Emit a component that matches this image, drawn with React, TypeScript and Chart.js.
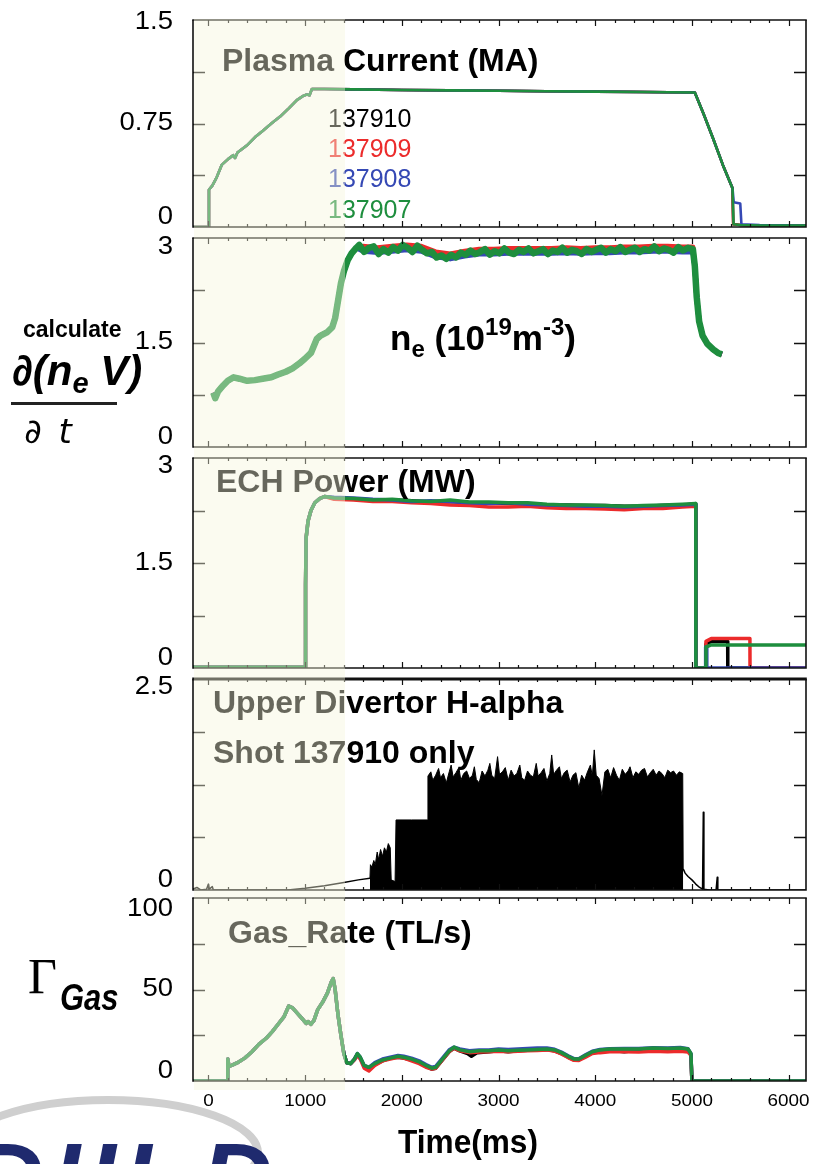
import React, { useEffect, useRef } from "react";
import { Chart, registerables } from "chart.js";

Chart.register(...registerables);

type Pair = [number, number];

/* ===================== DATA ===================== */
// time axis (ms)
const timeMin = -160;
const timeMax = 6180;
const timeTickValues = [0, 1000, 2000, 3000, 4000, 5000, 6000];
const timeTickLabels = ["0", "1000", "2000", "3000", "4000", "5000", "6000"];
const timeMinorStep = 200;

const shotNames = ["137910", "137909", "137908", "137907"];

// ---- Panel 1 : Plasma current (MA)
const ipTicks = [0, 0.375, 0.75, 1.125, 1.5];
const ipTickLabels = ["0", "", "0.75", "", "1.5"];
const ipRampFlat: Pair[] = [
  [-160, 0], [0, 0], [5, 0.27], [40, 0.3], [85, 0.36], [137, 0.45], [200, 0.49], [255, 0.52],
  [275, 0.5], [300, 0.54], [396, 0.59], [480, 0.65], [566, 0.7], [650, 0.75], [741, 0.8],
  [830, 0.86], [914, 0.92], [980, 0.95], [1017, 0.96], [1045, 0.955], [1070, 1.0], [1200, 1.0],
  [1500, 0.997], [2000, 0.993], [2500, 0.99], [3000, 0.987], [3500, 0.984], [4000, 0.981],
  [4500, 0.978], [5030, 0.975],
];
const ipTail137910: Pair[] = [[5120, 0.82], [5220, 0.64], [5320, 0.45], [5420, 0.28], [5428, 0.02], [5500, 0.015], [5700, 0.01], [6180, 0.01]];
const ipTail137909: Pair[] = [[5120, 0.82], [5220, 0.64], [5320, 0.45], [5420, 0.28], [5426, 0.02], [5500, 0.015], [5700, 0.01], [6180, 0.01]];
const ipTail137908: Pair[] = [[5120, 0.82], [5220, 0.64], [5320, 0.45], [5420, 0.28], [5432, 0.18], [5500, 0.17], [5512, 0.02], [5700, 0.015], [6180, 0.01]];
const ipTail137907: Pair[] = [[5120, 0.82], [5220, 0.64], [5320, 0.45], [5420, 0.28], [5430, 0.02], [5500, 0.015], [5700, 0.01], [6180, 0.01]];

// ---- Panel 2 : line density n_e (1e19 m^-3)
const neTicks = [0, 0.75, 1.5, 2.25, 3];
const neTickLabels = ["0", "", "1.5", "", "3"];
const neRise: Pair[] = [
  [50, 0.78], [70, 0.7], [100, 0.8], [150, 0.88], [200, 0.95], [260, 1.0], [320, 0.98], [400, 0.95],
  [480, 0.96], [560, 0.98], [650, 1.0], [720, 1.04], [800, 1.08], [870, 1.13], [940, 1.2],
  [1000, 1.27], [1060, 1.35], [1090, 1.45], [1120, 1.55], [1160, 1.6], [1230, 1.65], [1280, 1.72],
  [1310, 1.85], [1340, 2.1], [1370, 2.35], [1400, 2.52], [1440, 2.68], [1480, 2.78], [1530, 2.86],
];
const neFlat137910: Pair[] = [
  [1600, 2.83], [1750, 2.81], [1900, 2.83], [2050, 2.85], [2200, 2.83], [2350, 2.75], [2500, 2.72], [2650, 2.76],
  [2800, 2.79], [2950, 2.79], [3100, 2.8], [3250, 2.8], [3400, 2.8], [3550, 2.8], [3700, 2.81], [3850, 2.8],
  [4000, 2.81], [4150, 2.81], [4300, 2.82], [4450, 2.82], [4600, 2.83], [4750, 2.83], [4900, 2.82], [5010, 2.82],
];
const neFlat137909: Pair[] = [
  [1600, 2.88], [1750, 2.86], [1900, 2.88], [2050, 2.9], [2200, 2.88], [2350, 2.8], [2500, 2.77], [2650, 2.81],
  [2800, 2.84], [2950, 2.84], [3100, 2.85], [3250, 2.85], [3400, 2.85], [3550, 2.85], [3700, 2.86], [3850, 2.85],
  [4000, 2.86], [4150, 2.86], [4300, 2.87], [4450, 2.87], [4600, 2.88], [4750, 2.88], [4900, 2.87], [5010, 2.87],
];
const neFlat137908: Pair[] = [
  [1600, 2.81], [1750, 2.79], [1900, 2.81], [2050, 2.83], [2200, 2.81], [2350, 2.73], [2500, 2.7], [2650, 2.74],
  [2800, 2.77], [2950, 2.77], [3100, 2.78], [3250, 2.78], [3400, 2.78], [3550, 2.78], [3700, 2.79], [3850, 2.78],
  [4000, 2.79], [4150, 2.79], [4300, 2.8], [4450, 2.8], [4600, 2.81], [4750, 2.81], [4900, 2.8], [5010, 2.8],
];
const neFlat137907: Pair[] = [
  [1560, 2.9], [1610, 2.8], [1660, 2.86], [1710, 2.88], [1760, 2.77], [1810, 2.84], [1860, 2.79], [1910, 2.87],
  [1960, 2.82], [2010, 2.9], [2060, 2.86], [2110, 2.8], [2160, 2.89], [2210, 2.83], [2260, 2.78], [2310, 2.8],
  [2360, 2.72], [2410, 2.75], [2460, 2.7], [2510, 2.76], [2560, 2.72], [2610, 2.79], [2660, 2.76], [2710, 2.82],
  [2760, 2.77], [2810, 2.8], [2860, 2.84], [2910, 2.76], [2960, 2.81], [3010, 2.78], [3060, 2.85], [3110, 2.79],
  [3160, 2.77], [3210, 2.83], [3260, 2.8], [3310, 2.85], [3360, 2.78], [3410, 2.81], [3460, 2.84], [3510, 2.77],
  [3560, 2.82], [3610, 2.8], [3660, 2.86], [3710, 2.79], [3760, 2.83], [3810, 2.81], [3860, 2.77], [3910, 2.84],
  [3960, 2.8], [4010, 2.83], [4060, 2.86], [4110, 2.79], [4160, 2.84], [4210, 2.81], [4260, 2.87], [4310, 2.8],
  [4360, 2.83], [4410, 2.86], [4460, 2.8], [4510, 2.84], [4560, 2.82], [4610, 2.88], [4660, 2.81], [4710, 2.85],
  [4760, 2.83], [4810, 2.79], [4860, 2.87], [4910, 2.82], [4960, 2.86], [5010, 2.84],
];
const neFall: Pair[] = [[5030, 2.6], [5050, 2.15], [5075, 1.8], [5110, 1.6], [5160, 1.48], [5220, 1.4], [5270, 1.35], [5310, 1.33]];

// ---- Panel 3 : ECH power (MW)
const echTicks = [0, 0.75, 1.5, 2.25, 3];
const echTickLabels = ["0", "", "1.5", "", "3"];
const echRise: Pair[] = [[-160, 0.01], [1000, 0.01], [1004, 1.2], [1010, 1.86], [1030, 2.1], [1060, 2.25], [1100, 2.36], [1150, 2.42], [1200, 2.45]];
const ech137910: Pair[] = [
  [1300, 2.43], [1500, 2.41], [1700, 2.4], [1900, 2.4], [2100, 2.39], [2300, 2.37], [2500, 2.38], [2700, 2.36],
  [2900, 2.36], [3100, 2.35], [3300, 2.35], [3500, 2.33], [3700, 2.33], [3900, 2.32], [4100, 2.32], [4300, 2.31],
  [4500, 2.31], [4700, 2.32], [4900, 2.33], [5040, 2.34], [5041, 0], [5140, 0], [5145, 0.34], [5200, 0.38],
  [5370, 0.38], [5371, 0], [6180, 0],
];
const ech137909: Pair[] = [
  [1300, 2.41], [1500, 2.4], [1700, 2.38], [1900, 2.38], [2100, 2.36], [2300, 2.35], [2500, 2.33], [2700, 2.32],
  [2900, 2.3], [3100, 2.3], [3300, 2.31], [3500, 2.29], [3700, 2.28], [3900, 2.28], [4100, 2.27], [4300, 2.26],
  [4500, 2.28], [4700, 2.28], [4900, 2.3], [5040, 2.31], [5041, 0], [5140, 0], [5145, 0.38], [5200, 0.42],
  [5600, 0.42], [5601, 0], [6180, 0],
];
const ech137908: Pair[] = [
  [1300, 2.44], [1500, 2.43], [1700, 2.41], [1900, 2.4], [2100, 2.38], [2300, 2.39], [2500, 2.38], [2700, 2.36],
  [2900, 2.35], [3100, 2.36], [3300, 2.34], [3500, 2.33], [3700, 2.32], [3900, 2.31], [4100, 2.31], [4300, 2.3],
  [4500, 2.31], [4700, 2.32], [4900, 2.33], [5040, 2.34], [5041, 0], [5140, 0], [5142, 0.3], [5152, 0.3],
  [5154, 0], [6180, 0],
];
const ech137907: Pair[] = [
  [1300, 2.43], [1500, 2.42], [1700, 2.4], [1900, 2.41], [2100, 2.39], [2300, 2.38], [2500, 2.4], [2700, 2.37],
  [2900, 2.37], [3100, 2.36], [3300, 2.36], [3500, 2.34], [3700, 2.33], [3900, 2.33], [4100, 2.32], [4300, 2.31],
  [4500, 2.32], [4700, 2.33], [4900, 2.34], [5040, 2.35], [5041, 0], [5140, 0], [5145, 0.3], [5200, 0.33],
  [6180, 0.33],
];

// ---- Panel 4 : Upper divertor H-alpha (shot 137910)
const haTicks = [0, 0.625, 1.25, 1.875, 2.5];
const haTickLabels = ["0", "", "", "", "2.5"];
const haTraceEarly: Pair[] = [
  [-160, 0.01], [-120, 0.03], [-80, 0.0], [-20, 0.01], [0, 0.07], [8, 0.01], [40, 0.04], [50, 0.0],
  [600, 0.0], [820, 0.0], [1000, 0.02], [1200, 0.05], [1400, 0.09], [1550, 0.12], [1670, 0.14],
];
const haBurst: Pair[] = [
  [1670, 0.14], [1675, 0.3], [1690, 0.27], [1710, 0.35], [1725, 0.3], [1745, 0.45], [1760, 0.36], [1780, 0.48],
  [1800, 0.4], [1820, 0.5], [1840, 0.45], [1860, 0.55], [1880, 0.5], [1890, 0.12], [1930, 0.1], [1940, 0.83],
  [2100, 0.83], [2265, 0.83],
  [2270, 1.35], [2300, 1.4], [2320, 1.3], [2350, 1.36], [2380, 1.44], [2400, 1.33], [2430, 1.38], [2460, 1.27],
  [2490, 1.4], [2510, 1.48], [2530, 1.34], [2560, 1.39], [2590, 1.45], [2610, 1.3], [2640, 1.38], [2670, 1.41],
  [2700, 1.32], [2730, 1.36], [2750, 1.46], [2770, 1.31], [2800, 1.27], [2830, 1.41], [2860, 1.35], [2890, 1.42],
  [2910, 1.5], [2930, 1.36], [2960, 1.32], [2990, 1.58], [3010, 1.37], [3040, 1.4], [3070, 1.45], [3100, 1.3],
  [3130, 1.42], [3160, 1.35], [3190, 1.38], [3220, 1.48], [3240, 1.33], [3270, 1.3], [3300, 1.41], [3330, 1.36],
  [3360, 1.34], [3390, 1.5], [3410, 1.35], [3440, 1.39], [3470, 1.44], [3500, 1.29], [3530, 1.38], [3550, 1.6],
  [3570, 1.37], [3600, 1.42], [3630, 1.46], [3650, 1.32], [3680, 1.39], [3710, 1.42], [3740, 1.28], [3770, 1.36],
  [3800, 1.39], [3830, 1.21], [3860, 1.36], [3890, 1.3], [3920, 1.4], [3950, 1.48], [3970, 1.35], [3990, 1.66],
  [4010, 1.36], [4040, 1.32], [4070, 1.12], [4100, 1.4], [4130, 1.43], [4160, 1.33], [4190, 1.45], [4220, 1.36],
  [4250, 1.3], [4280, 1.43], [4310, 1.37], [4340, 1.41], [4360, 1.46], [4390, 1.33], [4420, 1.4], [4450, 1.37],
  [4480, 1.42], [4510, 1.44], [4540, 1.34], [4570, 1.39], [4600, 1.43], [4630, 1.36], [4660, 1.41], [4690, 1.38],
  [4720, 1.33], [4750, 1.42], [4780, 1.39], [4810, 1.41], [4840, 1.36], [4870, 1.4], [4905, 1.38], [4910, 0.25],
];
const haTraceLate: Pair[] = [
  [4910, 0.25], [4930, 0.2], [4960, 0.16], [5000, 0.12], [5040, 0.07], [5080, 0.03], [5110, 0.01], [5118, 0.92],
  [5124, 0.01], [5180, 0.0], [5250, 0.0], [5262, 0.15], [5268, 0.0], [6180, 0.0],
];

// ---- Panel 5 : Gas rate (TL/s)
const gasTicks = [0, 25, 50, 75, 100];
const gasTickLabels = ["0", "", "50", "", "100"];
const gasHead: Pair[] = [
  [-160, 0], [195, 0], [200, 12], [212, 8], [240, 8.5], [300, 10], [375, 12.5], [450, 16], [520, 20],
  [600, 23.5], [660, 27], [720, 31], [780, 35], [830, 41], [870, 40], [920, 37], [970, 34], [1010, 31.5],
  [1030, 32.5], [1060, 31], [1090, 33], [1130, 39], [1180, 43], [1230, 48], [1270, 54], [1290, 56],
  [1310, 50], [1340, 36], [1370, 25], [1400, 15], [1430, 10], [1470, 9.5],
];
const gas137910: Pair[] = [
  [1510, 12], [1540, 14.5], [1570, 12.5], [1610, 8], [1660, 7], [1720, 9], [1800, 11], [1880, 12.5], [1960, 13],
  [2020, 12.5], [2100, 11.5], [2180, 10], [2250, 8], [2310, 6.5], [2350, 7], [2420, 11.5], [2490, 16], [2540, 18],
  [2600, 16.5], [2680, 15], [2720, 13.5], [2780, 15.5], [2900, 16], [3000, 16.5], [3100, 16], [3200, 16.5],
  [3300, 16.8], [3400, 17], [3500, 17.2], [3580, 16.5], [3650, 15], [3720, 13], [3780, 11.5], [3830, 11.5],
  [3900, 13.5], [3970, 15.5], [4050, 16.5], [4150, 17], [4300, 16], [4450, 17], [4600, 17.5], [4750, 17.3],
  [4880, 17.5], [4960, 17], [4990, 14.5], [5000, 0], [6180, 0],
];
const gas137909: Pair[] = [
  [1510, 11.5], [1540, 14], [1570, 12], [1610, 7], [1660, 5.5], [1720, 8.5], [1800, 11], [1880, 12], [1960, 13],
  [2020, 12.5], [2100, 11], [2180, 9.5], [2250, 7.5], [2310, 6.5], [2350, 7], [2420, 11.5], [2490, 16], [2540, 18],
  [2600, 16.5], [2700, 15.5], [2800, 15.8], [2900, 16], [3000, 16.3], [3100, 16], [3200, 16.3], [3300, 16.5],
  [3400, 16.6], [3500, 17], [3580, 16.3], [3650, 14.8], [3720, 12.8], [3780, 11.3], [3830, 11.2], [3900, 13],
  [3970, 15], [4050, 15.5], [4150, 16], [4300, 16], [4450, 15.8], [4600, 16.2], [4750, 16], [4880, 16.3],
  [4960, 15.8], [4990, 14], [5000, 0], [6180, 0],
];
const gas137908: Pair[] = [
  [1510, 12], [1540, 15], [1570, 13], [1610, 8.5], [1660, 7.5], [1720, 10], [1800, 12], [1880, 13], [1960, 14],
  [2020, 13.5], [2100, 12.5], [2180, 11], [2250, 9], [2310, 7.5], [2350, 8], [2420, 12.5], [2490, 17], [2540, 18.5],
  [2600, 17.5], [2700, 16.5], [2800, 17], [2900, 17], [3000, 17.5], [3100, 17.2], [3200, 17.5], [3300, 17.8],
  [3400, 18], [3500, 18], [3580, 17.3], [3650, 15.8], [3720, 13.8], [3780, 12.3], [3830, 12.2], [3900, 14.3],
  [3970, 16.3], [4050, 17.2], [4150, 17.6], [4300, 17.8], [4450, 17.7], [4600, 18.2], [4750, 18], [4880, 18.3],
  [4960, 17.6], [4990, 15], [5000, 0], [6180, 0],
];
const gas137907: Pair[] = [
  [1510, 12], [1540, 15], [1570, 13], [1610, 8.5], [1660, 7.5], [1720, 9.5], [1800, 11.5], [1880, 12.5], [1960, 13.5],
  [2020, 13], [2100, 12], [2180, 10.5], [2250, 8.5], [2310, 7], [2350, 7.5], [2420, 12], [2490, 16.5], [2540, 18.5],
  [2600, 17], [2700, 16], [2800, 16.5], [2900, 16.5], [3000, 17], [3100, 16.5], [3200, 16.8], [3300, 17],
  [3400, 17.2], [3500, 17.5], [3580, 17], [3650, 15.5], [3720, 13.5], [3780, 12], [3830, 12], [3900, 14],
  [3970, 16], [4050, 17], [4150, 17.5], [4300, 17.5], [4450, 17.5], [4600, 18], [4750, 17.8], [4880, 18],
  [4960, 17.5], [4990, 15], [5000, 0], [6180, 0],
];

/* ===================== STYLE / LAYOUT ===================== */
const SANS = '"Liberation Sans", Arial, Helvetica, sans-serif';
const SHOT_COLORS: Record<string, string> = {
  "137910": "#000000",
  "137909": "#ec2b2b",
  "137908": "#3548b4",
  "137907": "#1e8e3e",
};
const SHOT_ORDER: Record<string, number> = { "137907": 0, "137908": 1, "137909": 2, "137910": 3 };

const FIG_W = 813;
const FIG_H = 1164;
const PLOT_LEFT = 193;
const PLOT_RIGHT = 806;

interface Box {
  top: number; bottom: number; canvasTop: number; canvasBottom: number;
  topLabelDy: number; topEdge: number;
}
const BOXES: Box[] = [
  { top: 20, bottom: 227, canvasTop: 0, canvasBottom: 241, topLabelDy: 2, topEdge: 1.6 },
  { top: 238, bottom: 447, canvasTop: 226, canvasBottom: 459, topLabelDy: 9, topEdge: 1.6 },
  { top: 458, bottom: 668, canvasTop: 446, canvasBottom: 678, topLabelDy: 8, topEdge: 1.6 },
  { top: 679, bottom: 890, canvasTop: 667, canvasBottom: 897, topLabelDy: 8.5, topEdge: 3 },
  { top: 898, bottom: 1081, canvasTop: 886, canvasBottom: 1126, topLabelDy: 11, topEdge: 1.6 },
];

interface Series { data: Pair[]; color: string; width: number; order: number; fill?: boolean }
interface Panel { yTicks: number[]; yLabels: string[]; series: Series[]; showTime: boolean }

const shotSeries = (shot: string, data: Pair[], width: number): Series => ({
  data, color: SHOT_COLORS[shot], width, order: SHOT_ORDER[shot],
});

const PANELS: Panel[] = [
  {
    yTicks: ipTicks, yLabels: ipTickLabels, showTime: false,
    series: [
      shotSeries("137907", [...ipRampFlat, ...ipTail137907], 2.6),
      shotSeries("137908", [...ipRampFlat, ...ipTail137908], 2.6),
      shotSeries("137909", [...ipRampFlat, ...ipTail137909], 2.6),
      shotSeries("137910", [...ipRampFlat, ...ipTail137910], 2.6),
    ],
  },
  {
    yTicks: neTicks, yLabels: neTickLabels, showTime: false,
    series: [
      shotSeries("137907", [...neRise, ...neFlat137907, ...neFall], 6.5),
      shotSeries("137908", [...neRise, ...neFlat137908, ...neFall], 5),
      shotSeries("137909", [...neRise, ...neFlat137909, ...neFall], 5),
      shotSeries("137910", [...neRise, ...neFlat137910, ...neFall], 5),
    ],
  },
  {
    yTicks: echTicks, yLabels: echTickLabels, showTime: false,
    series: [
      shotSeries("137907", [...echRise, ...ech137907], 3.5),
      shotSeries("137908", [...echRise, ...ech137908], 3.5),
      shotSeries("137909", [...echRise, ...ech137909], 3.5),
      shotSeries("137910", [...echRise, ...ech137910], 3.5),
    ],
  },
  {
    yTicks: haTicks, yLabels: haTickLabels, showTime: false,
    series: [
      { data: haTraceEarly, color: "#000", width: 1.5, order: 0 },
      { data: haBurst, color: "#000", width: 1, order: 1, fill: true },
      { data: haTraceLate, color: "#000", width: 1.5, order: 2 },
    ],
  },
  {
    yTicks: gasTicks, yLabels: gasTickLabels, showTime: true,
    series: [
      shotSeries("137907", [...gasHead, ...gas137907], 3.5),
      shotSeries("137908", [...gasHead, ...gas137908], 3.5),
      shotSeries("137909", [...gasHead, ...gas137909], 3.5),
      shotSeries("137910", [...gasHead, ...gas137910], 3.5),
    ],
  },
];

function axesPlugin(idx: number, panel: Panel) {
  const box = BOXES[idx];
  return {
    id: "panelAxes" + idx,
    afterDatasetsDraw(chart: any) {
      const { ctx, chartArea: a } = chart;
      const xs = chart.scales.x;
      const ys = chart.scales.y;
      ctx.save();
      ctx.strokeStyle = "#111";
      ctx.lineWidth = 1.6;
      ctx.beginPath();
      panel.yTicks.forEach((v) => {
        if (v <= ys.min || v >= ys.max) return;
        const y = Math.round(ys.getPixelForValue(v)) + 0.5;
        ctx.moveTo(a.left, y); ctx.lineTo(a.left + 12, y);
        ctx.moveTo(a.right - 12, y); ctx.lineTo(a.right, y);
      });
      ctx.stroke();
      ctx.lineWidth = 1.2;
      ctx.beginPath();
      for (let t = timeMinorStep * Math.ceil(xs.min / timeMinorStep); t <= xs.max; t += timeMinorStep) {
        const len = t % 1000 === 0 ? 6 : 3;
        const x = Math.round(xs.getPixelForValue(t)) + 0.5;
        ctx.moveTo(x, a.top); ctx.lineTo(x, a.top + len);
        ctx.moveTo(x, a.bottom); ctx.lineTo(x, a.bottom - len);
      }
      ctx.stroke();
      ctx.lineWidth = 1.6;
      ctx.beginPath();
      ctx.moveTo(a.left, a.top); ctx.lineTo(a.left, a.bottom); ctx.lineTo(a.right, a.bottom); ctx.lineTo(a.right, a.top);
      ctx.stroke();
      ctx.lineWidth = box.topEdge;
      ctx.beginPath();
      ctx.moveTo(a.left - 0.8, a.top); ctx.lineTo(a.right + 0.8, a.top);
      ctx.stroke();
      ctx.fillStyle = "#000";
      ctx.font = `25px ${SANS}`;
      ctx.textAlign = "right";
      ctx.textBaseline = "middle";
      panel.yTicks.forEach((v, i) => {
        const s = panel.yLabels[i];
        if (!s) return;
        let y = ys.getPixelForValue(v);
        if (v === ys.max) y += box.topLabelDy;
        else if (v === ys.min) y -= 9.5;
        ctx.save();
        ctx.translate(a.left - 20, y);
        ctx.scale(1.1, 1);
        ctx.fillText(s, 0, 0);
        ctx.restore();
      });
      if (panel.showTime) {
        ctx.font = `16px ${SANS}`;
        ctx.textAlign = "center";
        timeTickValues.forEach((t, i) => {
          ctx.save();
          ctx.translate(xs.getPixelForValue(t), a.bottom + 20);
          ctx.scale(1.18, 1.05);
          ctx.fillText(timeTickLabels[i], 0, 0);
          ctx.restore();
        });
      }
      ctx.restore();
    },
  };
}

/* ===================== TEXT HELPERS ===================== */
interface TxtProps {
  x: number; base: number; size: number; bold?: boolean; italic?: boolean;
  family?: string; color?: string; sx?: number; children: React.ReactNode; ls?: number;
}
const Txt = ({ x, base, size, bold, italic, family, color, sx, children, ls }: TxtProps) => (
  <div
    style={{
      position: "absolute",
      left: x,
      top: base - 0.8465 * size,
      fontSize: size,
      lineHeight: 1,
      fontWeight: bold ? 700 : 400,
      fontStyle: italic ? "italic" : "normal",
      fontFamily: family ?? SANS,
      color: color ?? "#000",
      whiteSpace: "nowrap",
      letterSpacing: ls,
      transform: sx ? `scaleX(${sx})` : undefined,
      transformOrigin: "left top",
    }}
  >
    {children}
  </div>
);

const supStyle = (dy: number, size: number): React.CSSProperties => ({
  fontSize: size, verticalAlign: `${dy}px`, lineHeight: 0,
});

export default function App() {
  const refs = useRef<(HTMLCanvasElement | null)[]>([]);

  useEffect(() => {
    const charts = PANELS.map((panel, idx) => {
      const box = BOXES[idx];
      const canvas = refs.current[idx] as HTMLCanvasElement;
      return new Chart(canvas, {
        type: "line",
        data: {
          datasets: panel.series.map((s) => ({
            data: s.data.map(([x, y]) => ({ x, y })),
            borderColor: s.color,
            backgroundColor: s.fill ? s.color : "rgba(0,0,0,0)",
            borderWidth: s.width,
            fill: s.fill ? "origin" : false,
            pointRadius: 0,
            tension: 0,
            order: s.order,
            borderJoinStyle: "round",
          })) as any,
        },
        options: {
          responsive: false,
          maintainAspectRatio: false,
          animation: false,
          devicePixelRatio: 1,
          layout: {
            padding: {
              left: PLOT_LEFT,
              right: FIG_W - PLOT_RIGHT,
              top: box.top - box.canvasTop,
              bottom: box.canvasBottom - box.bottom,
            },
          },
          scales: {
            x: { type: "linear", min: timeMin, max: timeMax, display: false },
            y: { type: "linear", min: panel.yTicks[0], max: panel.yTicks[panel.yTicks.length - 1], display: false },
          },
          plugins: { legend: { display: false }, tooltip: { enabled: false } },
          events: [],
        },
        plugins: [axesPlugin(idx, panel)],
      });
    });
    return () => charts.forEach((c) => c.destroy());
  }, []);

  return (
    <div style={{ position: "absolute", left: 0, top: 0, width: FIG_W, height: FIG_H, overflow: "hidden", background: "#fff" }}>
      <svg style={{ position: "absolute", left: 0, top: 1090 }} width={300} height={74}>
        <ellipse cx={108} cy={63} rx={150} ry={53} fill="none" stroke="#cfcfcf" strokeWidth={8} />
      </svg>
      <Txt x={-28} base={1213} size={100} bold italic color="#1f2a6e" ls={8}>DIII-D</Txt>

      {BOXES.map((b, i) => (
        <canvas
          key={i}
          ref={(el) => { refs.current[i] = el; }}
          width={FIG_W}
          height={b.canvasBottom - b.canvasTop}
          style={{ position: "absolute", left: 0, top: b.canvasTop, width: FIG_W, height: b.canvasBottom - b.canvasTop }}
        />
      ))}

      <Txt x={222} base={71} size={32} bold>Plasma Current (MA)</Txt>
      {shotNames.map((s, i) => (
        <Txt key={s} x={328} base={127 + i * 30.3} size={25} color={SHOT_COLORS[s]}>{s}</Txt>
      ))}
      <Txt x={390} base={350} size={35} bold>
        n<span style={supStyle(-7, 24)}>e</span> (10<span style={supStyle(15, 24)}>19</span>m<span style={supStyle(15, 24)}>-3</span>)
      </Txt>
      <Txt x={216} base={492} size={32} bold>ECH Power (MW)</Txt>
      <Txt x={213} base={713} size={32} bold>Upper Divertor H-alpha</Txt>
      <Txt x={213} base={763} size={32} bold>Shot 137910 only</Txt>
      <Txt x={228} base={943} size={32} bold>Gas_Rate (TL/s)</Txt>

      <Txt x={23} base={337} size={23} bold>calculate</Txt>
      <Txt x={12} base={386} size={42} bold italic>
        ∂(n<span style={supStyle(-8, 29)}>e</span> V)
      </Txt>
      <div style={{ position: "absolute", left: 11, top: 402, width: 106, height: 3, background: "#222" }} />
      <Txt x={24} base={443} size={34} italic family='"DejaVu Sans", sans-serif'>∂{"\u2002"}t</Txt>
      <Txt x={28} base={993} size={50} family='"Liberation Serif", "DejaVu Serif", serif'>Γ</Txt>
      <Txt x={60} base={1010} size={36} bold italic sx={0.86}>Gas</Txt>

      <Txt x={398} base={1153} size={34} bold sx={0.93}>Time(ms)</Txt>

      <div
        style={{
          position: "absolute", left: 194, top: 19, width: 151, height: 1071,
          background: "rgba(245,245,219,0.42)", pointerEvents: "none",
        }}
      />
    </div>
  );
}
